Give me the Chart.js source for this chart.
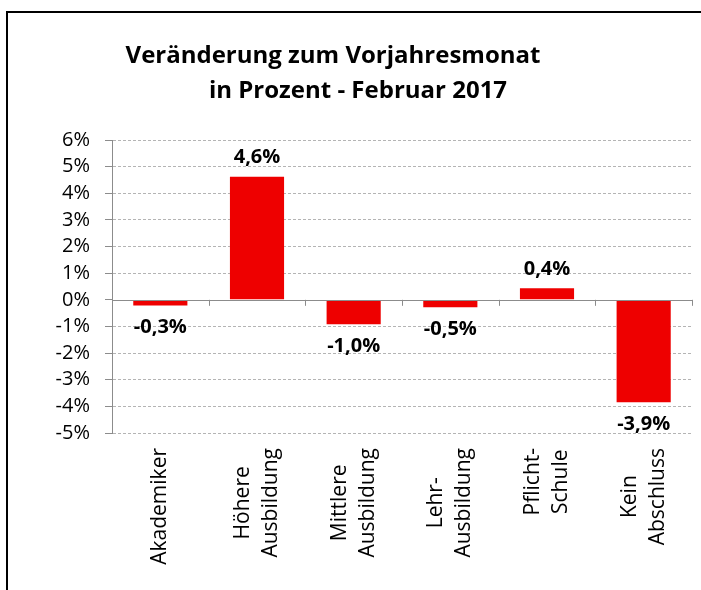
<!DOCTYPE html>
<html>
<head>
<meta charset="utf-8">
<script src="https://cdn.jsdelivr.net/npm/chart.js@4"></script>
<style>
  html, body { margin: 0; padding: 0; background: #fff; }
  #wrap { position: relative; width: 701px; height: 590px; overflow: hidden; }
  #frame { position: absolute; left: 6px; top: 11px; width: 720px; height: 600px;
           border-left: 2px solid #000; border-top: 2px solid #000; }
  canvas { position: absolute; left: 0; top: 0; }
</style>
</head>
<body>
<div id="wrap">
  <div id="frame"></div>
  <canvas id="chart" width="701" height="590"></canvas>
</div>
<script>
const FONT = "'Open Sans', sans-serif";

const titleLines = ["Veränderung zum Vorjahresmonat", "in Prozent - Februar 2017"];
const categories = [
  ["Akademiker"],
  ["Höhere", "Ausbildung"],
  ["Mittlere", "Ausbildung"],
  ["Lehr-", "Ausbildung"],
  ["Pflicht-", "Schule"],
  ["Kein", "Abschluss"]
];
const values = [-0.21, 4.62, -0.92, -0.28, 0.43, -3.85];
const valueLabels = ["-0,3%", "4,6%", "-1,0%", "-0,5%", "0,4%", "-3,9%"];
const yMin = -5, yMax = 6, yStep = 1;

// title, value labels, zero line with category ticks, rotated category labels
const decor = {
  id: "decor",
  afterDatasetsDraw(chart) {
    const { ctx, chartArea } = chart;
    const x = chart.scales.x, y = chart.scales.y;
    const y0 = y.getPixelForValue(0);

    ctx.save();
    ctx.strokeStyle = "#8c8c8c";
    ctx.lineWidth = 1;
    ctx.beginPath();
    ctx.moveTo(chartArea.left, Math.round(y0) + 0.5);
    ctx.lineTo(chartArea.right, Math.round(y0) + 0.5);
    for (let i = 0; i <= categories.length; i++) {
      const px = Math.round(x.getPixelForValue(i - 0.5)) + 0.5;
      ctx.moveTo(px, y0);
      ctx.lineTo(px, y0 + 6);
    }
    ctx.stroke();

    // value labels
    const meta = chart.getDatasetMeta(0);
    ctx.fillStyle = "#000";
    ctx.font = "bold 20px " + FONT;
    ctx.textAlign = "center";
    ctx.textBaseline = "middle";
    meta.data.forEach((bar, i) => {
      const off = values[i] >= 0 ? -19 : 22;
      ctx.fillText(valueLabels[i], bar.x, bar.y + off);
    });

    // category labels, rotated, lines centred in their block
    ctx.font = "21px " + FONT;
    const top = chartArea.bottom + 15;
    categories.forEach((lines, i) => {
      const cx = x.getPixelForValue(i);
      const w = Math.max(...lines.map(l => ctx.measureText(l).width));
      ctx.save();
      ctx.translate(cx, top + w / 2);
      ctx.rotate(-Math.PI / 2);
      lines.forEach((l, k) => {
        ctx.fillText(l, 0, (k - (lines.length - 1) / 2) * 28);
      });
      ctx.restore();
    });

    // title
    ctx.font = "bold 24px " + FONT;
    ctx.textBaseline = "alphabetic";
    ctx.fillText(titleLines[0], 333, 63);
    ctx.fillText(titleLines[1], 358, 98);
    ctx.restore();
  }
};

new Chart(document.getElementById("chart"), {
  type: "bar",
  data: {
    labels: categories,
    datasets: [{ data: values, backgroundColor: "#ee0000", barPercentage: 0.56, categoryPercentage: 1 }]
  },
  options: {
    responsive: false,
    animation: false,
    layout: { padding: { left: 0, top: 140, right: 9, bottom: 157 } },
    plugins: { legend: { display: false }, tooltip: { enabled: false } },
    scales: {
      x: {
        ticks: { display: false },
        grid: { display: false, drawTicks: false },
        border: { display: false }
      },
      y: {
        min: yMin, max: yMax,
        afterFit: s => { s.width = 112; },
        ticks: { stepSize: yStep, autoSkip: false, padding: 15, color: "#000",
                 font: { family: FONT, size: 20 }, callback: v => v + "%" },
        grid: { color: ctx => ctx.tick && ctx.tick.value === 0 ? "rgba(0,0,0,0)" : "#b4b4b4",
                tickColor: "#8c8c8c", tickLength: 7 },
        border: { color: "#8c8c8c", dash: [3, 2] }
      }
    }
  },
  plugins: [decor]
});
</script>
</body>
</html>
